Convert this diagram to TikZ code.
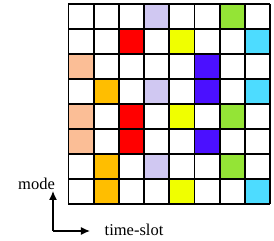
\documentclass[tikz,border=0pt]{standalone}
\usepackage{fontspec}
\setmainfont{Liberation Serif}
\usetikzlibrary{arrows.meta,positioning}
\definecolor{lav}{RGB}{208,200,242}
\definecolor{lime}{RGB}{148,228,54}
\definecolor{pure red}{RGB}{255,0,0}
\definecolor{yel}{RGB}{240,255,0}
\definecolor{sky}{RGB}{77,220,255}
\definecolor{peach}{RGB}{251,190,150}
\definecolor{violet}{RGB}{75,16,255}
\definecolor{amber}{RGB}{255,190,0}

\begin{document}
\begin{tikzpicture}[x=1pt, y=-1pt, every node/.style={font=\fontsize{16.5}{18}\selectfont, inner sep=0pt}]
            \useasboundingbox (0,0) rectangle (274,241);
            % Coloured slots (row/column/colour)
            \foreach \r/\c/\col in {1/4/lav, 1/7/lime,
                                    2/3/pure red, 2/5/yel, 2/8/sky,
                                    3/1/peach, 3/6/violet,
                                    4/2/amber, 4/4/lav, 4/6/violet, 4/8/sky,
                                    5/1/peach, 5/3/pure red, 5/5/yel, 5/7/lime,
                                    6/1/peach, 6/3/pure red, 6/6/violet,
                                    7/2/amber, 7/4/lav, 7/7/lime,
                                    8/2/amber, 8/5/yel, 8/8/sky}
                \fill[\col] ({68.5+(\c-1)*25.2},{4+(\r-1)*25}) rectangle ++(25.2,25);
            
            % Grid
            \foreach \i in {0,...,8} {
                \draw[line width=1.9pt] ({68.5+\i*25.2},4) -- ({68.5+\i*25.2},204);
                \draw[line width=1.9pt] (68.5,{4+\i*25}) -- (270.1,{4+\i*25});
            }
            
            % Axes
            \coordinate (o) at (53,231);
            \coordinate (up) at (53,191);
            \coordinate (rt) at (90,231);
            \draw[-{Latex[length=9pt,width=8pt]}, line width=1.3pt] (o) -- (up);
            \draw[-{Latex[length=9pt,width=8pt]}, line width=1.3pt] (o) -- (rt);
            \node (mode) at (36.5,184) {mode};
            \node (slot) at (134,230) {time-slot};
        \end{tikzpicture}
\end{document}
